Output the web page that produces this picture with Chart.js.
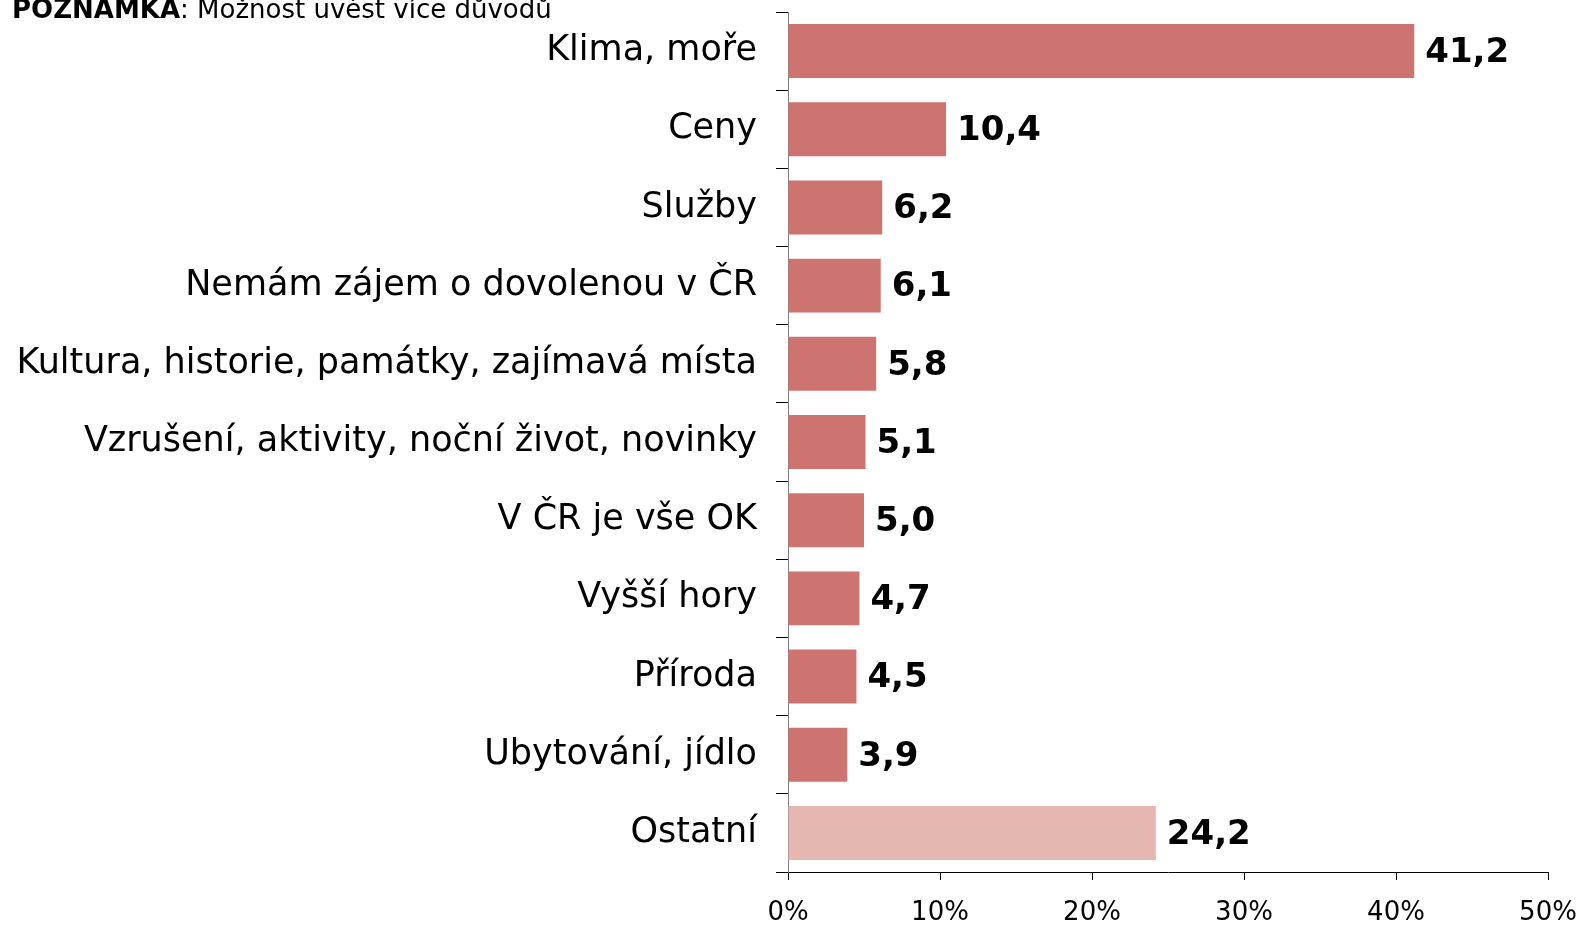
<!DOCTYPE html>
<html>
<head>
<meta charset="utf-8">
<script src="https://cdn.jsdelivr.net/npm/chart.js@4/dist/chart.umd.min.js"></script>
<style>
  html, body { margin: 0; padding: 0; background: #fff; }
  #wrap { width: 1583px; height: 925px; position: relative; }
</style>
</head>
<body>
<div id="wrap"><canvas id="graphId"></canvas></div>
<script>
// Důvody dovolené v zahraničí (%)
var categories = [
  'Klima, moře',
  'Ceny',
  'Služby',
  'Nemám zájem o dovolenou v ČR',
  'Kultura, historie, památky, zajímavá místa',
  'Vzrušení, aktivity, noční život, novinky',
  'V ČR je vše OK',
  'Vyšší hory',
  'Příroda',
  'Ubytování, jídlo',
  'Ostatní'
];
var values = [41.2, 10.4, 6.2, 6.1, 5.8, 5.1, 5.0, 4.7, 4.5, 3.9, 24.2];
var xTicks = [0, 10, 20, 30, 40, 50];
var noteBold = 'POZNÁMKA';
var noteText = ': Možnost uvést více důvodů';

var barColor = '#cd7470';
var otherColor = '#e6b6b1';
var font = 'DejaVu Sans';

var colors = categories.map(function (c) {
  return c === 'Ostatní' ? otherColor : barColor;
});

// values printed at the end of each bar, with a decimal comma
var valueLabels = {
  id: 'valueLabels',
  afterDatasetsDraw: function (chart) {
    var ctx = chart.ctx;
    var meta = chart.getDatasetMeta(0);
    ctx.save();
    ctx.font = 'bold 34px "' + font + '"';
    ctx.fillStyle = '#000';
    ctx.textAlign = 'left';
    ctx.textBaseline = 'middle';
    meta.data.forEach(function (bar, i) {
      ctx.fillText(values[i].toFixed(1).replace('.', ','), bar.x + 11, bar.y + 2);
    });
    ctx.restore();
  }
};

// note in the top left corner
var note = {
  id: 'note',
  afterDraw: function (chart) {
    var ctx = chart.ctx;
    ctx.save();
    ctx.fillStyle = '#000';
    ctx.textBaseline = 'alphabetic';
    ctx.font = 'bold 26px "' + font + '"';
    ctx.fillText(noteBold, 12, 18);
    var w = ctx.measureText(noteBold).width;
    ctx.font = '26px "' + font + '"';
    ctx.fillText(noteText, 12 + w, 18);
    ctx.restore();
  }
};

var ctx = document.getElementById('graphId').getContext('2d');
var myChart = new Chart(ctx, {
  type: 'bar',
  data: {
    labels: categories,
    datasets: [{
      data: values,
      backgroundColor: colors,
      borderWidth: 0,
      barPercentage: 0.69,
      categoryPercentage: 1
    }]
  },
  options: {
    indexAxis: 'y',
    responsive: true,
    maintainAspectRatio: false,
    animation: false,
    layout: { padding: { top: 12, right: 35, left: 0, bottom: 0 } },
    plugins: {
      legend: { display: false },
      tooltip: { enabled: false }
    },
    scales: {
      x: {
        min: 0,
        max: 50,
        afterBuildTicks: function (s) {
          s.ticks = xTicks.map(function (v) { return { value: v }; });
        },
        afterFit: function (s) {
          s.height = 53;
          s.paddingLeft = 0;
          s.paddingRight = 0;
        },
        grid: { drawOnChartArea: false, tickLength: 8, color: '#000' },
        border: { color: '#000', width: 1 },
        ticks: {
          color: '#000',
          padding: 18,
          maxRotation: 0,
          font: { family: font, size: 26 },
          callback: function (v) { return v + '%'; }
        }
      },
      y: {
        afterFit: function (s) {
          s.width = 788;
          s.paddingTop = 0;
          s.paddingBottom = 0;
        },
        grid: { drawOnChartArea: false, offset: true, tickLength: 12, color: '#000' },
        border: { color: '#808080', width: 1 },
        ticks: {
          color: '#000',
          padding: 19,
          autoSkip: false,
          font: { family: font, size: 35 }
        }
      }
    }
  },
  plugins: [valueLabels, note]
});
</script>
</body>
</html>
